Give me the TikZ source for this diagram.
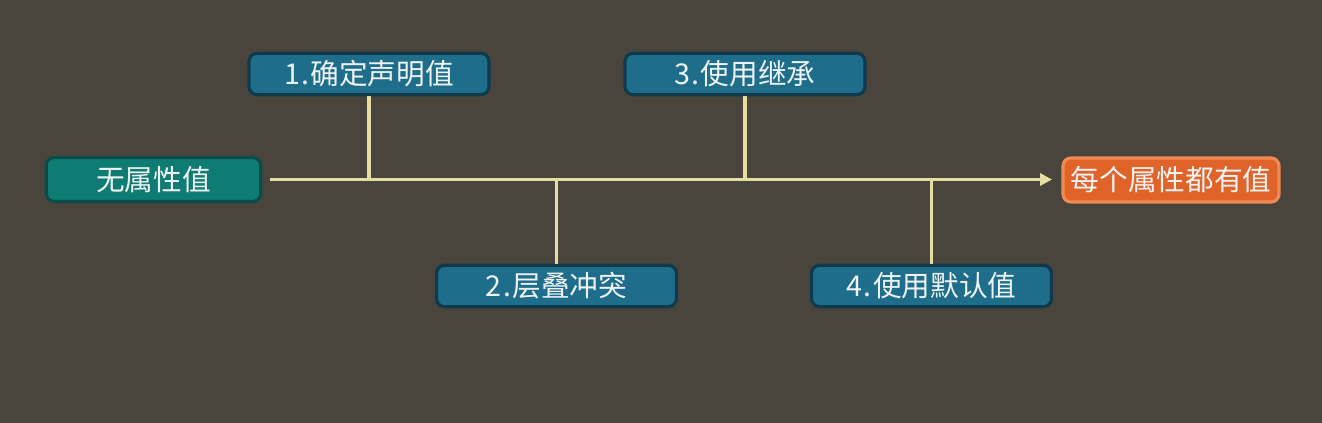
\documentclass[tikz,border=0pt]{standalone}
\usepackage{fontspec}
\setmainfont{Noto Sans CJK SC}
\usetikzlibrary{arrows.meta}
\definecolor{bg}{HTML}{4A453C}
\definecolor{stepfill}{HTML}{1E6D8B}
\definecolor{stepline}{HTML}{0E3A4C}
\definecolor{tealfill}{HTML}{0E7C72}
\definecolor{tealline}{HTML}{0A4D48}
\definecolor{orangefill}{HTML}{E0642A}
\definecolor{orangeline}{HTML}{F08A55}
\definecolor{conn}{HTML}{E6DDA2}
\definecolor{txt}{HTML}{EEF2F2}
\tikzset{
  x=0.75pt, y=-0.75pt,
  box/.style={rounded corners=6pt, line width=2.4pt, inner sep=0pt,
    text=txt, font=\fontsize{21.5}{25}\selectfont, anchor=center},
  stepbox/.style={box, fill=stepfill, draw=stepline, minimum width=180pt, minimum height=31pt},
  startbox/.style={box, fill=tealfill, draw=tealline, minimum width=161pt, minimum height=33pt},
  endbox/.style={box, fill=orangefill, draw=orangeline, minimum width=162pt, minimum height=33pt},
  link/.style={draw=conn, line width=2.6pt},
}
\begin{document}
\begin{tikzpicture}
\fill[bg] (0,0) rectangle (1322,423);
\useasboundingbox (0,0) rectangle (1322,423);
\node[startbox] (start) at (153.5,179.5) {无属性值};
\node[endbox] (goal) at (1171,180) {每个属性都有值};
\node[stepbox] (s1) at (369,74) {1\kern1pt.\kern1pt确定声明值};
\node[stepbox] (s3) at (745,74) {3\kern1pt.\kern1pt使用继承};
\node[stepbox] (s2) at (556.5,286) {2\kern1pt.\kern1pt层叠冲突};
\node[stepbox] (s4) at (931.5,286) {4\kern1pt.\kern1pt使用默认值};
\draw[link, -{Triangle[length=9pt,width=9pt]}, shorten <=6pt, shorten >=7pt] (start.east) -- (start.east -| goal.west);
\draw[link] (s1.south) -- (s1.south |- start.east);
\draw[link] (s3.south) -- (s3.south |- start.east);
\draw[link] (s2.north) -- (s2.north |- start.east);
\draw[link] (s4.north) -- (s4.north |- start.east);
\end{tikzpicture}
\end{document}
